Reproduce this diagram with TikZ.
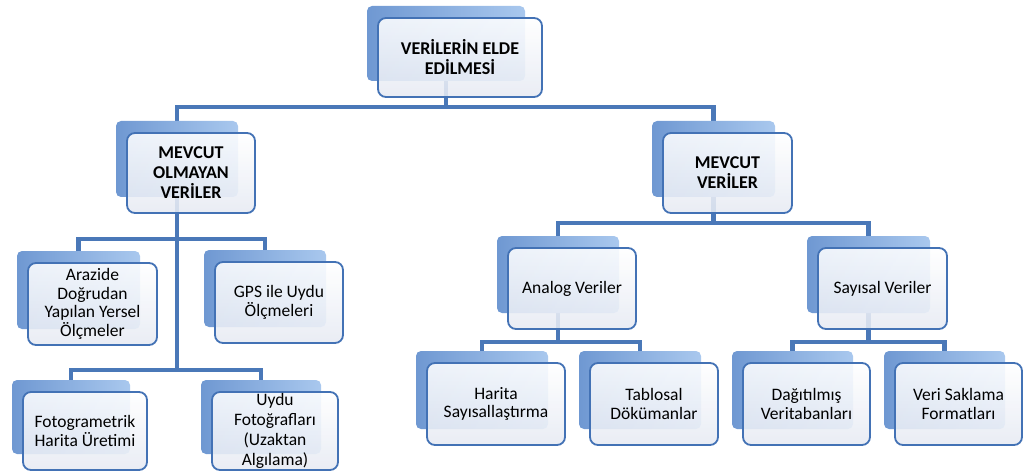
\documentclass[tikz,border=0pt]{standalone}
\usepackage{fontspec}
\setmainfont{Carlito}
\usetikzlibrary{calc}
\pgfdeclarelayer{bg}
\pgfdeclarelayer{mid}
\pgfsetlayers{bg,mid,main}
\definecolor{conn}{HTML}{4A78B8}
\definecolor{frameblue}{HTML}{4372B5}
\definecolor{backL}{HTML}{6F98D2}
\definecolor{backM}{HTML}{93B8E8}
\definecolor{backR}{HTML}{A9C8EE}
\definecolor{frontB}{HTML}{E6EAF3}
\tikzset{
  connector/.style={draw=conn, line width=4.5pt},
  frontbox/.style={draw=frameblue, line width=1.8pt, rounded corners=8pt,
    top color=white, bottom color=frontB, fill opacity=0.88, text opacity=1,
    align=center, inner sep=0pt, font=\fontsize{17.5}{18.5}\selectfont},
  headbox/.style={frontbox, font=\bfseries\fontsize{18}{20}\selectfont},
  backbox/.style={rounded corners=5pt, left color=backL, middle color=backM, right color=backR, inner sep=0pt},
}
\newcommand\bx[7]{%
  \node[#6, minimum width=#4pt, minimum height=#5pt] (#1) at (#2,#3) {#7};
  \begin{pgfonlayer}{mid}
    \node[backbox, minimum width=#4pt-6pt, minimum height=#5pt-4pt] (#1B) at ($(#1.center)+(-14,-14)$) {};
  \end{pgfonlayer}
}
\begin{document}
\begin{tikzpicture}[x=1pt,y=-1pt]
\useasboundingbox (0,0) rectangle (1030,473);
\bx{top}{460}{57.5}{164}{79}{headbox}{VERİLERİN ELDE\\EDİLMESİ}
\bx{mov}{191}{173}{128}{80}{headbox}{MEVCUT\\OLMAYAN\\VERİLER}
\bx{mv}{727.5}{173}{129}{80}{headbox}{MEVCUT\\VERİLER}
\bx{araz}{92.5}{304}{129}{82}{frontbox}{Arazide\\Doğrudan\\Yapılan Yersel\\Ölçmeler}
\bx{gps}{279}{302.5}{128}{81}{frontbox}{GPS ile Uydu\\Ölçmeleri}
\bx{foto}{85}{431}{124}{78}{frontbox}{Fotogrametrik\\Harita Üretimi}
\bx{uydu}{275}{431}{126}{78}{frontbox,font=\fontsize{17.5}{20}\selectfont}{Uydu\\Fotoğrafları\\(Uzaktan\\Algılama)}
\bx{ana}{572}{288.5}{128}{81}{frontbox}{Analog Veriler}
\bx{say}{882.5}{288.5}{129}{81}{frontbox}{Sayısal Veriler}
\bx{har}{496}{404}{138}{82}{frontbox}{Harita\\Sayısallaştırma}
\bx{tab}{654}{404}{128}{82}{frontbox}{Tablosal\\Dökümanlar}
\bx{dag}{806.5}{404}{127}{82}{frontbox}{Dağıtılmış\\Veritabanları}
\bx{veri}{958.5}{404}{127}{82}{frontbox}{Veri Saklama\\Formatları}
\coordinate (bus0) at (0,107);
\coordinate (bus1) at (0,239);
\coordinate (bus2) at (0,370);
\coordinate (bus3) at (0,223);
\coordinate (bus4) at (0,342);
\begin{pgfonlayer}{bg}
  \draw[connector] (topB.center) -- (topB.center |- bus0);
  \draw[connector] (topB.center |- bus0) -| (movB.center);
  \draw[connector] (topB.center |- bus0) -| (mvB.center);
  \draw[connector] (movB.center) -- (movB.center |- bus2);
  \draw[connector] (movB.center |- bus1) -| (arazB.center);
  \draw[connector] (movB.center |- bus1) -| (gpsB.center);
  \draw[connector] (movB.center |- bus2) -| (fotoB.center);
  \draw[connector] (movB.center |- bus2) -| (uyduB.center);
  \draw[connector] (mvB.center) -- (mvB.center |- bus3);
  \draw[connector] (mvB.center |- bus3) -| (anaB.center);
  \draw[connector] (mvB.center |- bus3) -| (sayB.center);
  \draw[connector] (anaB.center) -- (anaB.center |- bus4);
  \draw[connector] (anaB.center |- bus4) -| (harB.center);
  \draw[connector] (anaB.center |- bus4) -| (tabB.center);
  \draw[connector] (sayB.center) -- (sayB.center |- bus4);
  \draw[connector] (sayB.center |- bus4) -| (dagB.center);
  \draw[connector] (sayB.center |- bus4) -| (veriB.center);
\end{pgfonlayer}
\end{tikzpicture}
\end{document}
